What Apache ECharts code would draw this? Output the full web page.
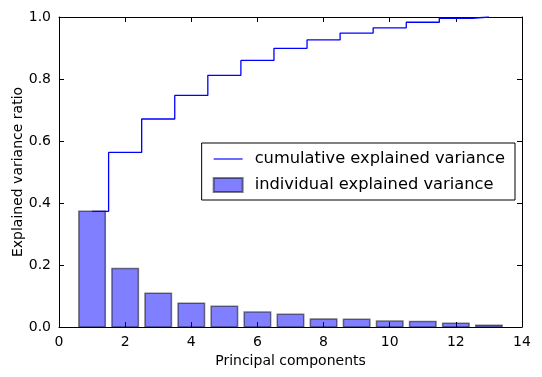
<!DOCTYPE html>
<html>
<head>
<meta charset="utf-8">
<script src="https://cdn.jsdelivr.net/npm/echarts@6/dist/echarts.min.js"></script>
<style>
html, body { margin: 0; padding: 0; background: #fff; }
#chart { width: 542px; height: 377px; }
</style>
</head>
<body>
<div id="chart"></div>
<script>
// principal components 1..13
const components = [1, 2, 3, 4, 5, 6, 7, 8, 9, 10, 11, 12, 13];
const individualVar = [0.373, 0.189, 0.109, 0.077, 0.067, 0.048, 0.041, 0.026, 0.025, 0.019, 0.018, 0.012, 0.006];
const cumulativeVar = [0.373, 0.563, 0.671, 0.747, 0.812, 0.860, 0.899, 0.926, 0.948, 0.965, 0.983, 0.996, 1.0];
const xTicks = [0, 2, 4, 6, 8, 10, 12, 14];
const yTicks = [0.0, 0.2, 0.4, 0.6, 0.8, 1.0];

const font = 'DejaVu Sans';
const chart = echarts.init(document.getElementById('chart'));

// axis base, ticks inside like matplotlib classic
function axisBase(show) {
  return {
    axisLine: { show: true, onZero: false, lineStyle: { color: '#000', width: 1 } },
    axisTick: { show: true, inside: true, length: 5, lineStyle: { color: '#000' } },
    splitLine: { show: false },
    axisLabel: { show: show, color: '#000', fontFamily: font, fontSize: 14, margin: 8 }
  };
}

const barData = components.map((c, i) => [c, individualVar[i]]);
const stepData = components.map((c, i) => [c, cumulativeVar[i]]);

chart.setOption({
  animation: false,
  grid: { left: 59, right: 20, top: 17, bottom: 50, outerBoundsMode: 'none', containLabel: false },
  legend: {
    orient: 'vertical',
    right: 27,
    top: 143,
    padding: [8, 10, 7, 11],
    itemGap: 10,
    itemWidth: 29,
    itemHeight: 14,
    borderColor: '#000',
    borderWidth: 1,
    backgroundColor: '#fff',
    borderRadius: 0,
    textStyle: { fontFamily: font, fontSize: 16.3, color: '#000', padding: [0, 0, 0, 7] },
    data: [
      { name: 'cumulative explained variance', icon: 'path://M0,0 L30,0 L30,1.2 L0,1.2 Z', itemStyle: { color: '#0000ff' } },
      { name: 'individual explained variance', icon: 'rect' }
    ]
  },
  xAxis: [
    Object.assign(axisBase(true), {
      type: 'value', min: 0, max: 14, interval: 2, position: 'bottom',
      name: 'Principal components', nameLocation: 'middle', nameGap: 27, nameMoveOverlap: false,
      nameTextStyle: { fontFamily: font, fontSize: 14, color: '#000' }
    }),
    Object.assign(axisBase(false), { type: 'value', min: 0, max: 14, interval: 2, position: 'top' })
  ],
  yAxis: [
    Object.assign(axisBase(true), {
      type: 'value', min: 0, max: 1, interval: 0.2, position: 'left',
      axisLabel: { color: '#000', fontFamily: font, fontSize: 14, margin: 8,
        formatter: v => v.toFixed(1) },
      name: 'Explained variance ratio', nameLocation: 'middle', nameGap: 34, nameMoveOverlap: false,
      nameTextStyle: { fontFamily: font, fontSize: 14, color: '#000' }
    }),
    Object.assign(axisBase(false), { type: 'value', min: 0, max: 1, interval: 0.2, position: 'right' })
  ],
  series: [
    {
      name: 'individual explained variance',
      type: 'custom',
      xAxisIndex: 0,
      yAxisIndex: 0,
      data: barData,
      itemStyle: { color: 'rgba(0,0,255,0.5)', borderColor: 'rgba(0,0,0,0.5)', borderWidth: 1.5 },
      renderItem: function (params, api) {
        const x = api.value(0), y = api.value(1);
        const p0 = api.coord([x - 0.4, y]);
        const p1 = api.coord([x + 0.4, 0]);
        return {
          type: 'rect',
          shape: { x: p0[0], y: p0[1], width: p1[0] - p0[0], height: p1[1] - p0[1] },
          style: { fill: 'rgba(0,0,255,0.5)', stroke: 'rgba(0,0,0,0.5)', lineWidth: 1.5 }
        };
      },
      z: 2
    },
    {
      name: 'cumulative explained variance',
      type: 'line',
      step: 'middle',
      data: stepData,
      symbol: 'none',
      lineStyle: { color: '#0000ff', width: 1.3 },
      itemStyle: { color: '#0000ff' },
      z: 3
    }
  ]
});
</script>
</body>
</html>
